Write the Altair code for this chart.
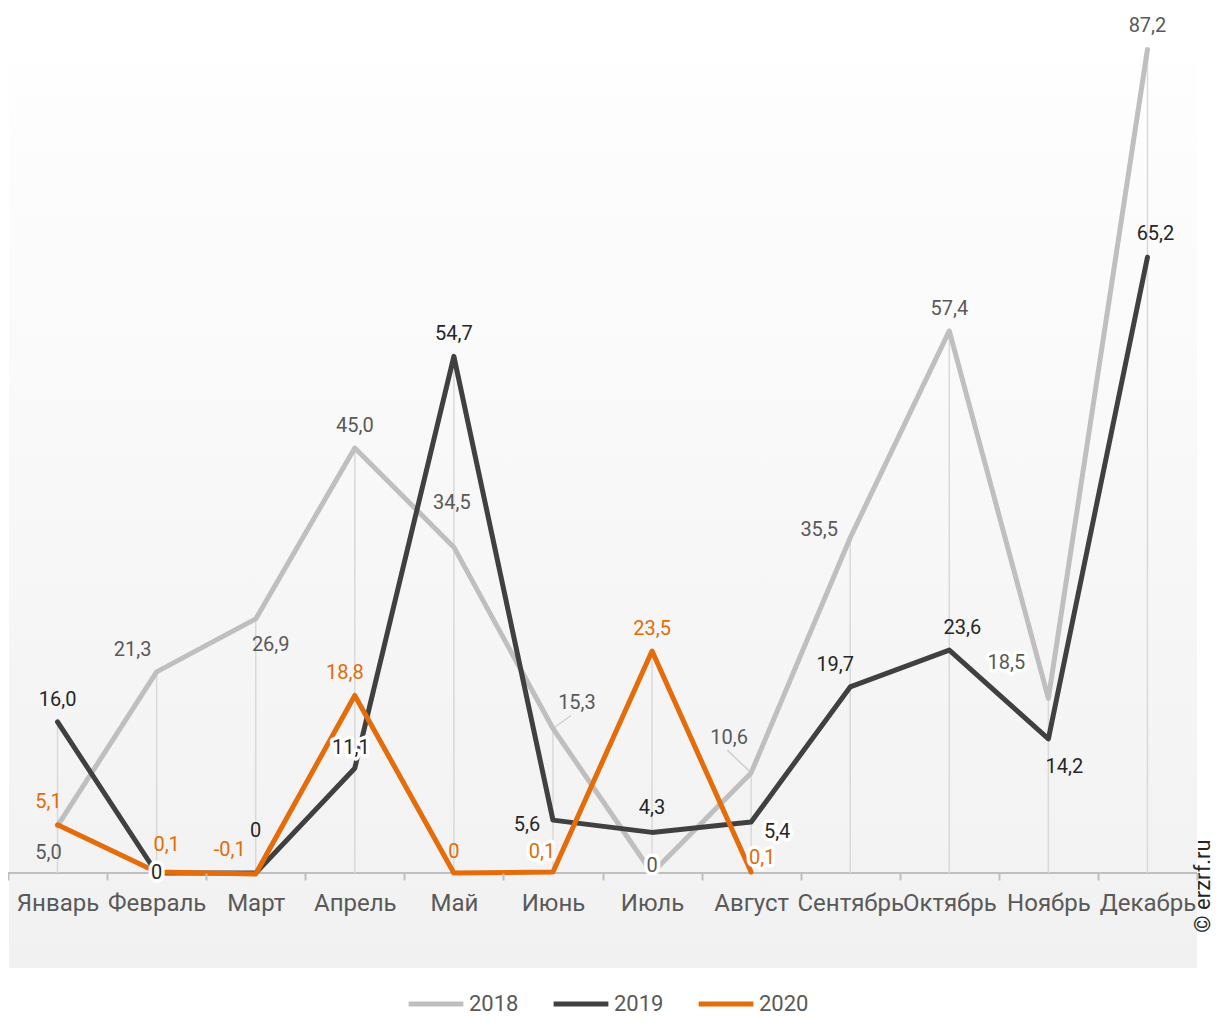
import altair as alt
import pandas as pd

months = ["Январь", "Февраль", "Март", "Апрель", "Май", "Июнь", "Июль",
          "Август", "Сентябрь", "Октябрь", "Ноябрь", "Декабрь"]
years = ["2018", "2019", "2020"]
v2018 = [5.0, 21.3, 26.9, 45.0, 34.5, 15.3, 0.0, 10.6, 35.5, 57.4, 18.5, 87.2]
v2019 = [16.0, 0.0, 0.0, 11.1, 54.7, 5.6, 4.3, 5.4, 19.7, 23.6, 14.2, 65.2]
v2020 = [5.1, 0.1, -0.1, 18.8, 0.0, 0.1, 23.5, 0.1]

line_colors = ["#bfbfbf", "#404040", "#e46c0a"]
label_colors = ["#595959", "#262626", "#e36c09"]

# label placement offsets (px) relative to each point
dx2018 = [-9, -24, 15, 0, -2, 24, 0, -22, -31, 0, -42, 0]
dy2018 = [27, -22, 26, -22, -44, -26, -7, -35, -8, -22, -35, -23]
dx2019 = [0, 0, 0, -4, 0, -26, 0, 26, -15, 13, 16, 8]
dy2019 = [-22, 0, -42, -20, -22, 5, -24, 10, -22, -22, 28, -23]
dx2020 = [-9, 10, -26, -10, 0, -11, 0, 11]
dy2020 = [-23, -27, -24, -22, -21, -20, -22, -14]
halo2018 = [0, 0, 0, 0, 0, 0, 1, 0, 0, 0, 1, 0]
halo2019 = [0, 1, 0, 1, 0, 0, 0, 1, 0, 0, 0, 0]
halo2020 = [0, 0, 0, 0, 0, 1, 0, 1]
# leader line end offsets (px) for 2018 labels (0, 0 = no leader)
ldx2018 = [0, 0, 0, 0, 0, 18, 0, -24, 0, 0, 0, 0]
ldy2018 = [0, 0, 0, 0, 0, -13, 0, -23, 0, 0, 0, 0]


def fmt(v):
    if v == 0:
        return "0"
    return f"{v:.1f}".replace(".", ",")


W, H = 1189, 850
XMIN, XMAX = -0.5, 11.5
YMIN, YMAX = 0, 90
FONT = "Roboto"
XPX = (XMAX - XMIN) / W
YPX = (YMAX - YMIN) / H

rows = []
series = [(v2018, dx2018, dy2018, halo2018), (v2019, dx2019, dy2019, halo2019),
          (v2020, dx2020, dy2020, halo2020)]
for k, (vals, dxs, dys, halos) in enumerate(series):
    for i, v in enumerate(vals):
        rows.append({"idx": i, "month": months[i], "year": years[k], "value": v,
                     "label": fmt(v), "dx": dxs[i], "dy": dys[i], "halo": halos[i],
                     "lcol": label_colors[k],
                     "ldx": ldx2018[i] if k == 0 else 0,
                     "ldy": ldy2018[i] if k == 0 else 0})
df = pd.DataFrame(rows)

drop_rows = []
for i in range(12):
    vals = [s[0][i] for s in series if i < len(s[0])]
    drop_rows.append({"idx": i, "top": max(vals), "base": 0})
drops = pd.DataFrame(drop_rows)

xscale = alt.Scale(domain=[XMIN, XMAX], nice=False, zero=False)
yscale = alt.Scale(domain=[YMIN, YMAX], nice=False, zero=False)

month_arr = "[" + ",".join("'" + m + "'" for m in months) + "]"
label_expr = f"datum.value > 11 ? '' : {month_arr}[round(datum.value + 0.5)]"

xaxis = alt.Axis(values=[i - 0.5 for i in range(13)], labelExpr=label_expr,
                 labelOffset=W / 24, labelOverlap=False, labelBound=False,
                 labelFlush=False, grid=False, title=None, domain=False,
                 tickColor="#bfbfbf", tickWidth=2, tickSize=7, labelFont=FONT,
                 labelFontSize=24, labelColor="#595959", labelPadding=23,
                 labelBaseline="middle", zindex=1)

X = lambda f: alt.X(f, scale=xscale, axis=xaxis)
Y = lambda f: alt.Y(f, scale=yscale, axis=None)

bg = alt.Chart(alt.Data(values=[{}])).mark_rect(
    fill=alt.Gradient(gradient="linear", x1=0, y1=0, x2=0, y2=1,
                      stops=[alt.GradientStop(color="#fefefe", offset=0),
                             alt.GradientStop(color="#f1f1f1", offset=1)])
).encode(x=alt.value(1), x2=alt.value(W), y=alt.value(42), y2=alt.value(945))

baseline = alt.Chart(alt.Data(values=[{"z": 0}])).mark_rule(
    color="#bfbfbf", strokeWidth=2
).encode(x=alt.value(0), x2=alt.value(W), y=Y("z:Q"))

droplines = alt.Chart(drops).mark_rule(color="#d9d9d9", strokeWidth=1.5).encode(
    x=X("idx:Q"), y=Y("top:Q"), y2="base:Q",
)

lines = alt.Chart(df).mark_line(strokeWidth=5, strokeCap="round", strokeJoin="round").encode(
    x=X("idx:Q"),
    y=Y("value:Q"),
    color=alt.Color("year:N", scale=alt.Scale(domain=years, range=line_colors),
                    legend=alt.Legend(orient="none", legendX=398, legendY=951,
                                      direction="horizontal", title=None,
                                      symbolType="stroke", symbolStrokeWidth=5,
                                      symbolSize=3000, labelFont=FONT,
                                      labelFontSize=22, labelColor="#595959",
                                      labelOffset=3, columnPadding=24,
                                      symbolOffset=0)),
    detail="year:N",
    order="idx:Q",
)

pos = alt.Chart(df).transform_calculate(
    lx=f"datum.idx + datum.dx * {XPX}",
    ly=f"datum.value - datum.dy * {YPX}",
    ex=f"datum.idx + datum.ldx * {XPX}",
    ey=f"datum.value - datum.ldy * {YPX}",
)

leaders = pos.transform_filter("datum.ldx != 0 || datum.ldy != 0").mark_rule(
    color="#d0d0d0", strokeWidth=1.5
).encode(x=X("idx:Q"), y=Y("value:Q"), x2="ex:Q", y2="ey:Q")

halo = pos.transform_filter("datum.halo == 1").mark_text(
    font=FONT, fontSize=20, stroke="white", strokeWidth=7, fill="white",
    strokeJoin="round", baseline="middle", align="center"
).encode(x=X("lx:Q"), y=Y("ly:Q"), text="label:N")

labels = pos.mark_text(
    font=FONT, fontSize=20, baseline="middle", align="center"
).encode(
    x=X("lx:Q"), y=Y("ly:Q"), text="label:N",
    color=alt.Color("lcol:N", scale=None, legend=None),
)

copyright_ = alt.Chart(alt.Data(values=[{"t": "© erzrf.ru"}])).mark_text(
    font=FONT, fontSize=22, angle=270, color="#262626", baseline="middle",
    align="center"
).encode(x=alt.value(1195), y=alt.value(863), text="t:N")

chart = alt.layer(bg, baseline, droplines, leaders, lines, halo, labels,
                  copyright_).properties(
    width=W, height=H,
    background="white",
    autosize=alt.AutoSizeParams(type="none"),
    padding={"left": 0, "top": 15, "right": 19, "bottom": 143},
).configure_view(stroke=None)

chart.save("out.html", embed_options={"renderer": "svg", "actions": False})
